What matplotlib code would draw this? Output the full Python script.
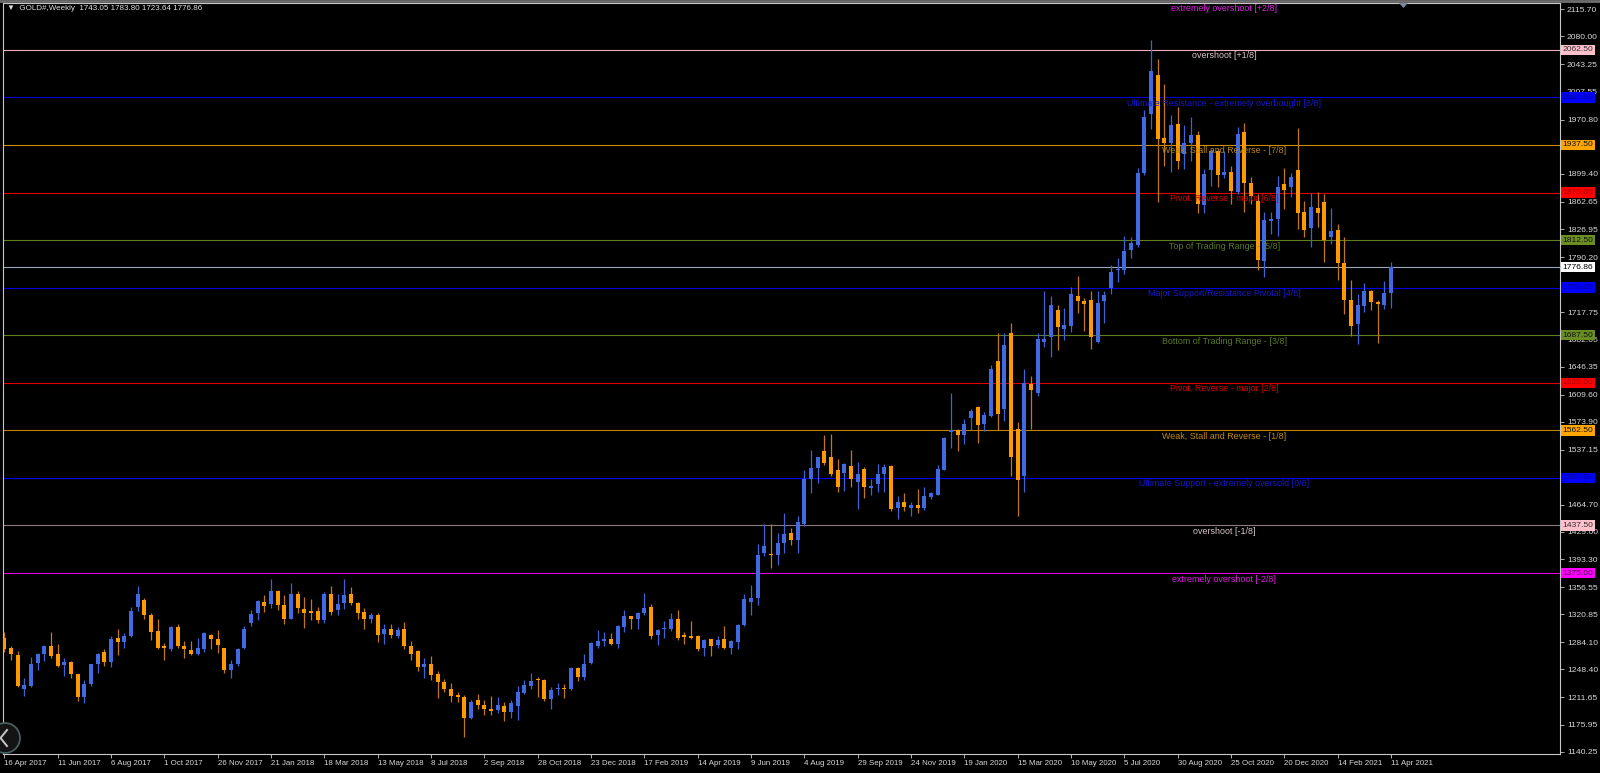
import matplotlib.pyplot as plt
import numpy as np
from matplotlib.patches import Ellipse, Polygon
from matplotlib.lines import Line2D
import matplotlib.transforms as mtrans

plt.rcParams['font.family'] = ['Liberation Sans', 'DejaVu Sans']

# weekly GOLD# candles, 16 Apr 2017 .. 11 Apr 2021
opens = [1290, 1276, 1267, 1222, 1227, 1257, 1268, 1279, 1268, 1254,
         1258, 1242, 1212, 1229, 1255, 1271, 1258, 1290, 1284, 1292,
         1331, 1339, 1320, 1299, 1279, 1275, 1304, 1279, 1274, 1269,
         1275, 1294, 1289, 1276, 1247, 1255, 1277, 1310, 1322, 1337,
         1334, 1352, 1333, 1315, 1348, 1328, 1325, 1325, 1313, 1347,
         1326, 1335, 1347, 1335, 1324, 1315, 1320, 1295, 1301, 1292,
         1301, 1279, 1272, 1252, 1255, 1242, 1232, 1223, 1215, 1212,
         1184, 1208, 1202, 1196, 1195, 1200, 1193, 1200, 1218, 1227,
         1236, 1234, 1209, 1222, 1224, 1222, 1250, 1239, 1257, 1279,
         1286, 1288, 1282, 1304, 1318, 1314, 1322, 1331, 1294, 1302,
         1301, 1314, 1293, 1292, 1292, 1276, 1288, 1280, 1288, 1277,
         1285, 1307, 1337, 1342, 1401, 1400, 1399, 1415, 1428, 1418,
         1440, 1498, 1513, 1536, 1527, 1510, 1507, 1516, 1495, 1512,
         1487, 1492, 1505, 1516, 1460, 1468, 1461, 1465, 1460, 1475,
         1478, 1511, 1560, 1563, 1557, 1579, 1593, 1571, 1582, 1653,
         1591, 1691, 1564, 1502, 1624, 1612, 1679, 1685, 1720, 1696,
         1700, 1739, 1732, 1734, 1678, 1732, 1750, 1773, 1773, 1799,
         1806, 1901, 1978, 2029, 1947, 1940, 1965, 1925, 1940, 1950,
         1859, 1904, 1929, 1898, 1902, 1876, 1955, 1888, 1864, 1785,
         1837, 1840, 1886, 1882, 1905, 1849, 1828, 1854, 1863, 1816,
         1826, 1782, 1734, 1702, 1726, 1746, 1731, 1727, 1743.05]
highs = [1297, 1279, 1273, 1237, 1265, 1270, 1280, 1297, 1282, 1263,
         1259, 1243, 1234, 1256, 1270, 1275, 1292, 1302, 1296, 1330,
         1358, 1342, 1322, 1315, 1283, 1305, 1308, 1286, 1286, 1290,
         1298, 1295, 1300, 1277, 1261, 1276, 1305, 1326, 1340, 1346,
         1367, 1353, 1346, 1362, 1351, 1343, 1341, 1331, 1350, 1358,
         1348, 1367, 1357, 1337, 1329, 1323, 1323, 1308, 1308, 1304,
         1311, 1286, 1274, 1263, 1266, 1246, 1236, 1230, 1219, 1215,
         1208, 1216, 1208, 1213, 1212, 1206, 1208, 1227, 1234, 1244,
         1238, 1236, 1225, 1230, 1229, 1251, 1251, 1268, 1284, 1300,
         1297, 1296, 1307, 1327, 1319, 1324, 1349, 1334, 1302, 1312,
         1322, 1326, 1298, 1312, 1293, 1289, 1289, 1292, 1305, 1287,
         1308, 1348, 1359, 1413, 1439, 1439, 1427, 1454, 1434, 1450,
         1511, 1537, 1528, 1556, 1558, 1525, 1519, 1537, 1521, 1514,
         1498, 1518, 1518, 1517, 1476, 1480, 1468, 1485, 1488, 1482,
         1517, 1554, 1611, 1564, 1577, 1591, 1594, 1586, 1648, 1690,
         1691, 1703, 1574, 1643, 1634, 1690, 1746, 1739, 1727, 1723,
         1751, 1765, 1737, 1745, 1745, 1745, 1780, 1789, 1818, 1816,
         1907, 1983, 2076, 2050, 2017, 1977, 1988, 1964, 1974, 1956,
         1906, 1932, 1932, 1930, 1910, 1961, 1966, 1895, 1873, 1849,
         1849, 1897, 1907, 1900, 1960, 1864, 1874, 1876, 1873, 1855,
         1834, 1816, 1760, 1741, 1756, 1747, 1734, 1759, 1783.80]
lows = [1271, 1261, 1225, 1213, 1225, 1248, 1259, 1264, 1251, 1240,
        1237, 1207, 1204, 1226, 1244, 1253, 1252, 1267, 1276, 1291,
        1325, 1315, 1287, 1275, 1261, 1273, 1277, 1264, 1267, 1267,
        1271, 1275, 1270, 1244, 1237, 1253, 1275, 1305, 1313, 1324,
        1329, 1327, 1308, 1314, 1322, 1303, 1313, 1309, 1309, 1320,
        1320, 1328, 1333, 1315, 1302, 1310, 1285, 1282, 1290, 1290,
        1275, 1261, 1246, 1237, 1235, 1211, 1219, 1205, 1206, 1160,
        1183, 1196, 1188, 1188, 1191, 1180, 1184, 1182, 1216, 1222,
        1212, 1207, 1196, 1215, 1211, 1221, 1233, 1234, 1256, 1277,
        1279, 1281, 1277, 1298, 1302, 1302, 1320, 1289, 1281, 1290,
        1299, 1287, 1282, 1288, 1272, 1266, 1266, 1277, 1275, 1268,
        1275, 1306, 1320, 1333, 1397, 1382, 1386, 1401, 1412, 1401,
        1437, 1480, 1493, 1517, 1503, 1481, 1483, 1488, 1459, 1474,
        1477, 1481, 1482, 1456, 1446, 1457, 1450, 1454, 1458, 1472,
        1477, 1510, 1539, 1536, 1545, 1563, 1546, 1561, 1580, 1563,
        1575, 1503, 1450, 1482, 1564, 1608, 1672, 1659, 1668, 1681,
        1692, 1717, 1693, 1670, 1677, 1703, 1741, 1757, 1768, 1789,
        1804, 1898, 1959, 1862, 1910, 1902, 1906, 1906, 1917, 1848,
        1848, 1884, 1882, 1894, 1860, 1873, 1850, 1860, 1773, 1764,
        1820, 1818, 1853, 1869, 1827, 1816, 1804, 1830, 1784, 1807,
        1760, 1716, 1687, 1676, 1718, 1720, 1677, 1722, 1723.64]
closes = [1275, 1269, 1226, 1228, 1255, 1268, 1279, 1266, 1253, 1258,
          1242, 1212, 1229, 1255, 1269, 1258, 1289, 1285, 1292, 1325,
          1347, 1320, 1298, 1277, 1276, 1304, 1279, 1275, 1269, 1277,
          1296, 1288, 1280, 1248, 1255, 1275, 1302, 1321, 1338, 1332,
          1351, 1333, 1315, 1348, 1329, 1322, 1323, 1313, 1347, 1324,
          1334, 1346, 1335, 1323, 1315, 1320, 1294, 1301, 1294, 1300,
          1279, 1269, 1252, 1255, 1241, 1232, 1222, 1213, 1212, 1185,
          1206, 1201, 1196, 1194, 1201, 1193, 1204, 1219, 1228, 1233,
          1234, 1209, 1221, 1224, 1222, 1250, 1238, 1255, 1283, 1286,
          1288, 1282, 1305, 1318, 1314, 1323, 1329, 1292, 1300, 1303,
          1314, 1290, 1291, 1290, 1275, 1287, 1279, 1287, 1277, 1286,
          1307, 1341, 1342, 1399, 1410, 1399, 1415, 1426, 1418, 1442,
          1498, 1513, 1527, 1520, 1505, 1488, 1518, 1498, 1505, 1488,
          1490, 1505, 1515, 1459, 1468, 1462, 1464, 1460, 1476, 1480,
          1512, 1553, 1563, 1557, 1571, 1588, 1570, 1583, 1643, 1584,
          1674, 1528, 1497, 1625, 1615, 1682, 1682, 1727, 1698, 1701,
          1741, 1733, 1729, 1685, 1730, 1740, 1771, 1775, 1798, 1809,
          1901, 1974, 2035, 1945, 1940, 1964, 1916, 1940, 1950, 1860,
          1899, 1929, 1898, 1902, 1877, 1952, 1888, 1870, 1786, 1839,
          1840, 1882, 1878, 1896, 1848, 1826, 1856, 1848, 1812, 1825,
          1782, 1734, 1700, 1727, 1745, 1731, 1728, 1743, 1776.86]

date_labels = ['16 Apr 2017', '11 Jun 2017', '6 Aug 2017', '1 Oct 2017', '26 Nov 2017',
               '21 Jan 2018', '18 Mar 2018', '13 May 2018', '8 Jul 2018', '2 Sep 2018',
               '28 Oct 2018', '23 Dec 2018', '17 Feb 2019', '14 Apr 2019', '9 Jun 2019',
               '4 Aug 2019', '29 Sep 2019', '24 Nov 2019', '19 Jan 2020', '15 Mar 2020',
               '10 May 2020', '5 Jul 2020', '30 Aug 2020', '25 Oct 2020', '20 Dec 2020',
               '14 Feb 2021', '11 Apr 2021']
price_ticks = [2115.70, 2080.00, 2043.25, 2007.55, 1970.80, 1935.10, 1899.40, 1862.65,
               1826.95, 1790.20, 1754.50, 1717.75, 1682.05, 1646.35, 1609.60, 1573.90,
               1537.15, 1501.45, 1464.70, 1429.00, 1393.30, 1356.55, 1320.85, 1284.10,
               1248.40, 1211.65, 1175.95, 1140.25]
# tick labels that sit fully behind a level price box
hidden_ticks = [1935.10, 1754.50, 1501.45]

# Murrey math levels
mm_levels = [2125.0, 2062.5, 2000.0, 1937.5, 1875.0, 1812.5, 1750.0,
             1687.5, 1625.0, 1562.5, 1500.0, 1437.5, 1375.0]
mm_names = ['extremely overshoot [+2/8]', 'overshoot [+1/8]',
            'Ultimate Resistance - extremely overbought [8/8]',
            'Weak, Stall and Reverse - [7/8]', 'Pivot, Reverse - major [6/8]',
            'Top of Trading Range - [5/8]', 'Major Support/Resistance Pivotal [4/8]',
            'Bottom of Trading Range - [3/8]', 'Pivot, Reverse - major [2/8]',
            'Weak, Stall and Reverse - [1/8]', 'Ultimate Support - extremely oversold [0/8]',
            'overshoot [-1/8]', 'extremely overshoot [-2/8]']
line_colors = ['#e000e0', '#f0aebb', '#0000d0', '#d08c00', '#e00000', '#5f7f1f', '#0000e0',
               '#5f7f1f', '#e00000', '#c08000', '#0000ff', '#8c7a7e', '#e000e0']
text_colors = ['#e020e0', '#d8c4c8', '#1818c8', '#b8860b', '#d80000', '#5a7a20', '#1818c8',
               '#5a7a20', '#d80000', '#c08a10', '#1818c8', '#d8c4c8', '#e020e0']
box_colors = ['#ff00ff', '#ffc0cb', '#0000ff', '#ffa500', '#ff0000', '#6b8e23', '#0000ff',
              '#6b8e23', '#ff0000', '#ffa500', '#0000ff', '#ffc0cb', '#ff00ff']
box_text = ['#500050', '#303030', '#000090', '#101010', '#a00000', '#101010', '#000090',
            '#101010', '#a00000', '#101010', '#000090', '#303030', '#500050']
last_price = 1776.86

W, H = 1600, 773
fig = plt.figure(figsize=(16, 7.73), dpi=100, facecolor='black')
ax = fig.add_axes([3 / W, 19 / H, 1557 / W, 751 / H])
ax.set_facecolor('black')

n = len(closes)
x = np.arange(n)
o = np.array(opens, float)
h = np.array(highs, float)
l = np.array(lows, float)
c = np.array(closes, float)
up = c >= o

body_up, body_dn = '#4169e1', '#ff9900'
wick_up, wick_dn = '#3c64d8', '#c07a10'
ax.vlines(x[up], l[up], h[up], color=wick_up, lw=0.9, zorder=3)
ax.vlines(x[~up], l[~up], h[~up], color=wick_dn, lw=0.9, zorder=3)
bottom = np.minimum(o, c)
height = np.maximum(np.abs(c - o), 1.4)
ax.bar(x[up], height[up], bottom=bottom[up], width=0.62, color=body_up, lw=0, zorder=4)
ax.bar(x[~up], height[~up], bottom=bottom[~up], width=0.62, color=body_dn, lw=0, zorder=4)

ax.set_xlim(-0.2, 233.35)
ax.set_ylim(1137.25, 2124.0)

# level lines, labels and price boxes
ytrans = mtrans.blended_transform_factory(ax.transAxes, ax.transData)
below = mtrans.offset_copy(ytrans, fig=fig, y=-1.5, units='dots')
for lvl, name, lc, tc, bc, bt in zip(mm_levels, mm_names, line_colors, text_colors,
                                     box_colors, box_text):
    ax.axhline(lvl, color=lc, lw=0.8, zorder=2)
    ax.text(0.7845, lvl, name, transform=below, ha='center', va='top',
            fontsize=6.4, color=tc, zorder=5, clip_on=False)
    if lvl < 2115:
        ax.text(1.0017, lvl, f'{lvl:.2f}', transform=ytrans, ha='left', va='center',
                fontsize=6.1, color=bt, zorder=6, clip_on=False,
                bbox=dict(boxstyle='square,pad=0.2', fc=bc, ec='none'))

ax.axhline(last_price, color='#9aa6b8', lw=0.8, zorder=2)
ax.text(1.0017, last_price, f'{last_price:.2f}', transform=ytrans, ha='left', va='center',
        fontsize=6.1, color='black', zorder=6, clip_on=False,
        bbox=dict(boxstyle='square,pad=0.2', fc='white', ec='none'))

# axes styling
for side in ['left', 'right', 'top', 'bottom']:
    ax.spines[side].set_color('#c8c8c8')
    ax.spines[side].set_linewidth(0.8)
ax.yaxis.tick_right()
ax.set_yticks(price_ticks)
ax.set_yticklabels(['' if p in hidden_ticks else f'{p:.2f}' for p in price_ticks])
ax.tick_params(axis='y', colors='#c8c8c8', labelcolor='#d8d8d8', labelsize=6.1,
               length=3, width=0.6, pad=2)
ax.set_xticks(np.arange(0, n, 8))
ax.set_xticklabels(date_labels)
ax.tick_params(axis='x', colors='#c8c8c8', labelcolor='#d8d8d8', labelsize=5.7,
               length=3, width=0.6, pad=1.5)
for lab in ax.get_xticklabels():
    lab.set_ha('left')

# header and chart decorations
fig.text(7 / W, 1 - 9 / H, '\u25bc  GOLD#,Weekly  1743.05 1783.80 1723.64 1776.86',
         fontsize=5.8, color='#e0e0e0', va='center', ha='left')
fig.add_artist(Line2D([0, 1], [1 - 1 / H, 1 - 1 / H], color='#707070', lw=2))
fig.add_artist(Polygon([(1399 / W, 1 - 3 / H), (1408 / W, 1 - 3 / H), (1403.5 / W, 1 - 8 / H)],
                       closed=True, fc='#7888a0', ec='none'))
fig.add_artist(Ellipse((5 / W, 35 / H), 30 / W, 30 / H, fc='#141414', ec='#4a6464', lw=1.2))
fig.add_artist(Line2D([7 / W, 0.5 / W, 7 / W], [43 / H, 35 / H, 27 / H],
                      color='#c8c8c8', lw=1.4))

fig.savefig('out.png', dpi=100, facecolor='black')
